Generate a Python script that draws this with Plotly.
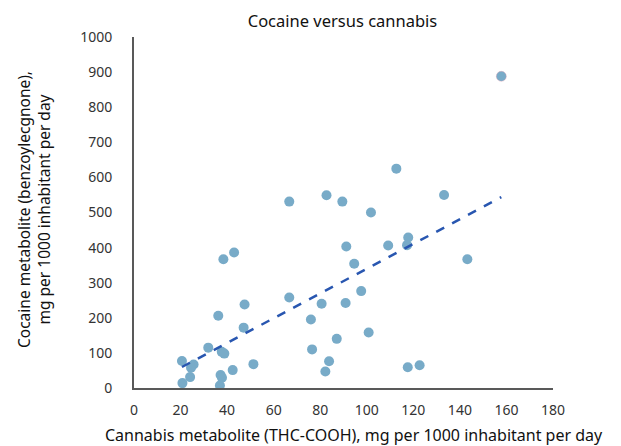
import numpy as np
import plotly.graph_objects as go

cannabis = [157.8, 112.7, 133.2, 82.7, 66.7, 89.5, 101.8, 117.8, 117.3, 109.2, 91.2, 43.0,
            38.4, 143.2, 94.6, 97.6, 66.7, 90.9, 80.6, 47.5, 36.2, 76.0, 47.1, 100.8, 87.1,
            31.9, 76.5, 37.7, 38.8, 20.6, 83.8, 51.3, 25.6, 122.7, 117.6, 24.5, 42.4, 82.2,
            37.2, 24.1, 37.8, 20.8, 36.9]
cocaine = [888, 625, 550, 549, 531, 531, 500, 429, 407, 406, 403, 386,
           367, 367, 354, 276, 258, 242, 240, 238, 206, 195, 172, 158, 140,
           115, 110, 103, 98, 77, 76, 68, 67, 65, 59, 58, 51, 47,
           37, 31, 29, 14, 7]

x_ticks = [0, 20, 40, 60, 80, 100, 120, 140, 160, 180]
y_ticks = [0, 100, 200, 300, 400, 500, 600, 700, 800, 900, 1000]

title = "Cocaine versus cannabis"
x_title = "Cannabis metabolite (THC-COOH), mg per 1000 inhabitant per day"
y_title = "Cocaine metabolite (benzoylecgnone),<br>mg per 1000 inhabitant per day"

slope, intercept = np.polyfit(cannabis, cocaine, 1)
tx = [min(cannabis), max(cannabis)]
ty = [slope * v + intercept for v in tx]

outline = ["rgba(220,150,170,0.6)" if i == 0 else "rgba(0,0,0,0)" for i in range(len(cannabis))]

FONT = "Noto Sans"
fig = go.Figure()
fig.add_trace(go.Scatter(x=cannabis, y=cocaine, mode="markers",
                         marker=dict(size=10, color="#78abc8", line=dict(width=0.6, color=outline)),
                         showlegend=False, hoverinfo="x+y"))
fig.add_trace(go.Scatter(x=tx, y=ty, mode="lines",
                         line=dict(color="#2856b0", width=2.5, dash="dash"),
                         showlegend=False, hoverinfo="skip"))

fig.update_layout(
    width=621, height=446,
    margin=dict(l=134, r=68, t=37, b=58),
    paper_bgcolor="white", plot_bgcolor="white",
    font=dict(family=FONT, size=15, color="#222222"),
    title=dict(text=title, x=342.5 / 621, xanchor="center", y=1 - 21 / 446, yanchor="middle",
               font=dict(family=FONT, size=16.5, color="#111111")),
    xaxis=dict(range=[0, 180], tickvals=x_ticks, showgrid=False, zeroline=False,
               showline=True, linecolor="#595959", linewidth=2, ticks="",
               ticklabelstandoff=8, tickfont=dict(size=14, color="#333333")),
    yaxis=dict(range=[0, 1000], tickvals=y_ticks, showgrid=False, zeroline=False,
               showline=True, linecolor="#595959", linewidth=2, ticks="",
               ticklabelstandoff=17, tickfont=dict(size=14, color="#333333")),
    annotations=[
        dict(text=x_title, xref="paper", yref="paper", x=(354 - 134) / 419, y=-47 / 351,
             xanchor="center", yanchor="middle", showarrow=False,
             font=dict(family=FONT, size=16, color="#111111")),
        dict(text=y_title, xref="paper", yref="paper", x=-100 / 419, y=(388 - 210) / 351,
             xanchor="center", yanchor="middle", showarrow=False, textangle=-90,
             font=dict(family=FONT, size=15.5, color="#111111")),
    ],
)

fig.write_html("out.html", config={"displayModeBar": False},
               post_script="document.body.style.margin='0';")
